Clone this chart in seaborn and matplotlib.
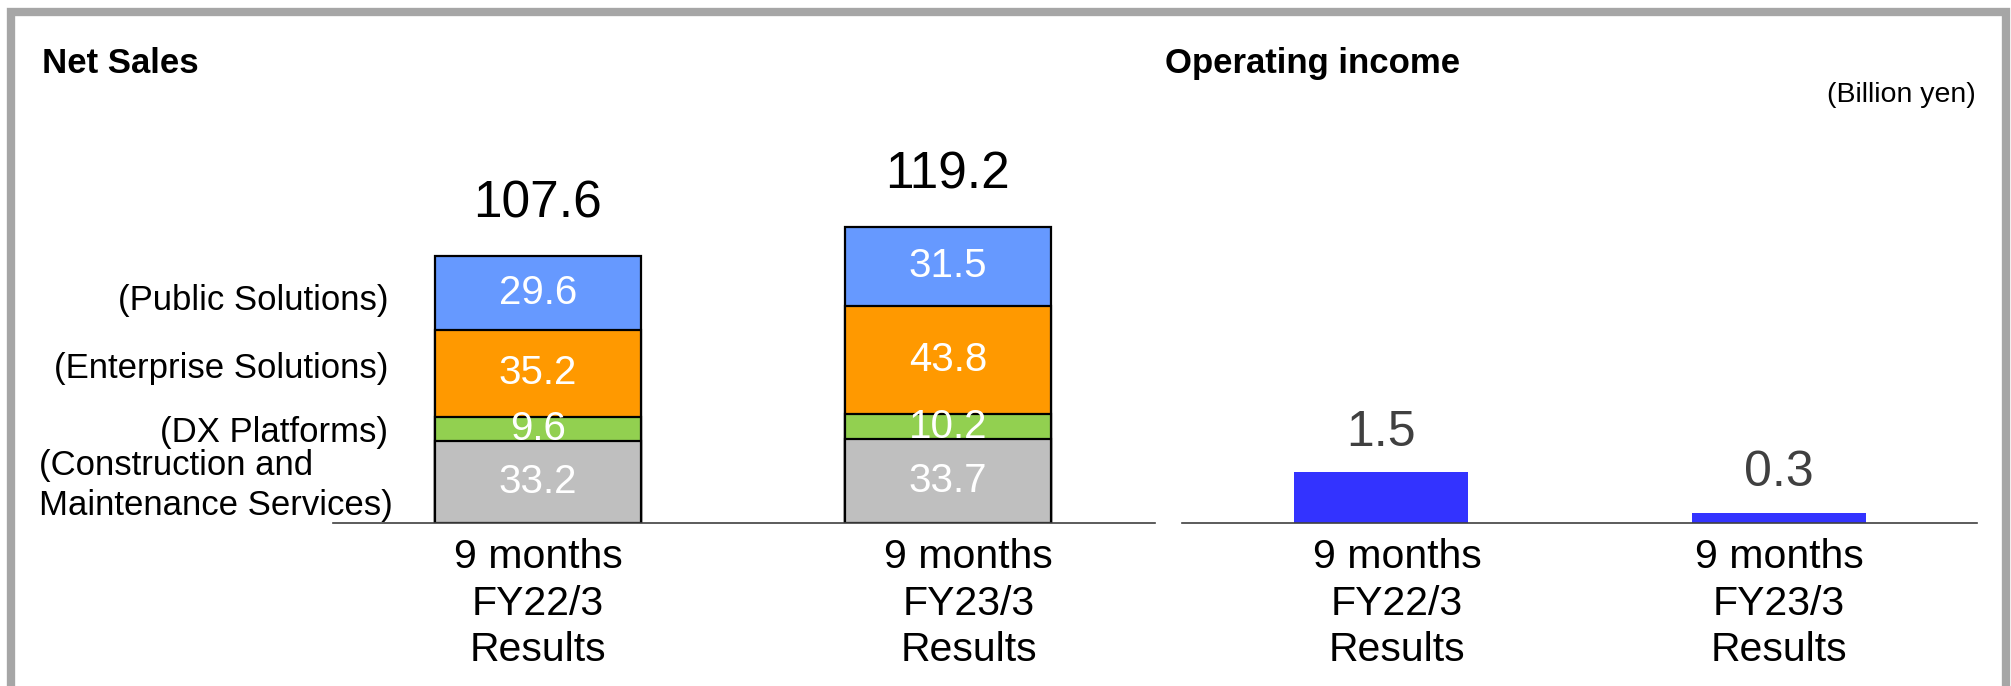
import numpy as np
import pandas as pd
import matplotlib
matplotlib.use("Agg")
import matplotlib.pyplot as plt
import matplotlib.transforms as mtransforms
from matplotlib.patches import Rectangle
import seaborn as sns

# chart data
periods = ["9 months\nFY22/3\nResults", "9 months\nFY23/3\nResults"]
construction = [33.2, 33.7]
dx_platforms = [9.6, 10.2]
enterprise = [35.2, 43.8]
public = [29.6, 31.5]
net_sales_total = [107.6, 119.2]
operating_income = [1.5, 0.3]

segment_names = ["(Construction and\nMaintenance Services)", "(DX Platforms)",
                 "(Enterprise Solutions)", "(Public Solutions)"]
segment_colors = ["#BFBFBF", "#92D050", "#FF9900", "#6699FF"]

sns.set_style("white")
plt.rcParams['font.family'] = ['Liberation Sans', 'DejaVu Sans']
plt.rcParams['text.color'] = 'black'

W, H = 2011, 686
fig = plt.figure(figsize=(W / 100, H / 100), dpi=100)
fig.patch.set_facecolor("white")


def px(x0, y0, x1, y1):
    # pixel box (from top-left) -> figure fraction rect
    return [x0 / W, 1 - y1 / H, (x1 - x0) / W, (y1 - y0) / H]


ax1 = fig.add_axes(px(333, 63, 1155, 523))
ax2 = fig.add_axes(px(1182, 63, 1977, 523))

# stacked bars: draw cumulative sums from the top segment down
segments = pd.DataFrame({"period": periods, "c": construction, "d": dx_platforms,
                         "e": enterprise, "p": public})
stack = segments[["c", "d", "e", "p"]].cumsum(axis=1)
for col, color in zip(["p", "e", "d", "c"], segment_colors[::-1]):
    sns.barplot(x=segments["period"], y=stack[col], color=color, saturation=1,
                width=0.502, edgecolor="black", linewidth=1.6, errorbar=None, ax=ax1)

# segment value labels
for i in range(len(periods)):
    bottoms = np.concatenate([[0], stack.iloc[i].values[:-1]])
    vals = segments[["c", "d", "e", "p"]].iloc[i].values
    for b, v in zip(bottoms, vals):
        ax1.text(i, b + v / 2, f"{v:.1f}", ha="center", va="center",
                 color="white", fontsize=29)
    ax1.annotate(f"{net_sales_total[i]:.1f}", (i, net_sales_total[i]),
                 xytext=(0, 28), textcoords="offset points",
                 ha="center", va="baseline", fontsize=37, color="black")

# segment names beside first bar
trans = mtransforms.blended_transform_factory(fig.transFigure, ax1.transData)
first = stack.iloc[0].values
first_bottoms = np.concatenate([[0], first[:-1]])
mids = (first + first_bottoms) / 2
nudges = [-1.5, -1.5, 2.0, -3.0]
ax1.text(39 / W, mids[0] + nudges[0], segment_names[0], transform=trans, ha="left",
         va="center", fontsize=25, linespacing=1.28, clip_on=False)
for name, y, dy in zip(segment_names[1:], mids[1:], nudges[1:]):
    ax1.text(388 / W, y + dy, name, transform=trans, ha="right", va="center",
             fontsize=25, clip_on=False)

sns.barplot(x=periods, y=operating_income, color="#3333FF", saturation=1,
            width=0.437, edgecolor="none", errorbar=None, ax=ax2)
for i, v in enumerate(operating_income):
    ax2.annotate(f"{v:.1f}", (i, v), xytext=(0, 19), textcoords="offset points",
                 ha="center", va="baseline", fontsize=36, color="#404040")

ax1.set_xlim(-0.5, 1.505)
ax1.set_ylim(0, 185.5)
ax2.set_xlim(-0.5, 1.497)
ax2.set_ylim(0, 13.53)

# category labels sit slightly right of the bar centres in the source
ax1.set_xticks([0.0, 1.05], periods)
ax2.set_xticks([0.04, 1.0], periods)

for ax in (ax1, ax2):
    ax.set_facecolor("none")
    ax.set_xlabel("")
    ax.set_ylabel("")
    ax.set_yticks([])
    for s in ["top", "left", "right"]:
        ax.spines[s].set_visible(False)
    ax.spines["bottom"].set_color("#404040")
    ax.spines["bottom"].set_linewidth(1.2)
    ax.tick_params(axis="x", length=0, pad=11, labelsize=29.5, labelcolor="black")
    for t in ax.get_xticklabels():
        t.set_linespacing(1.28)

fig.text(42 / W, 1 - 73 / H, "Net Sales", fontsize=25, fontweight="bold",
         ha="left", va="baseline")
fig.text(1165 / W, 1 - 73 / H, "Operating income", fontsize=25, fontweight="bold",
         ha="left", va="baseline")
fig.text(1976 / W, 1 - 95 / H, "(Billion yen)", fontsize=20.5, ha="right", va="center")

# grey frame, open at the bottom
fig.patches.append(Rectangle((11 / W, -0.1), (2006 - 11) / W, 1.1 - 12 / H,
                             transform=fig.transFigure, fill=False,
                             edgecolor="#A6A6A6", linewidth=6, zorder=0))

plt.savefig("out.png", dpi=100, format="png")
